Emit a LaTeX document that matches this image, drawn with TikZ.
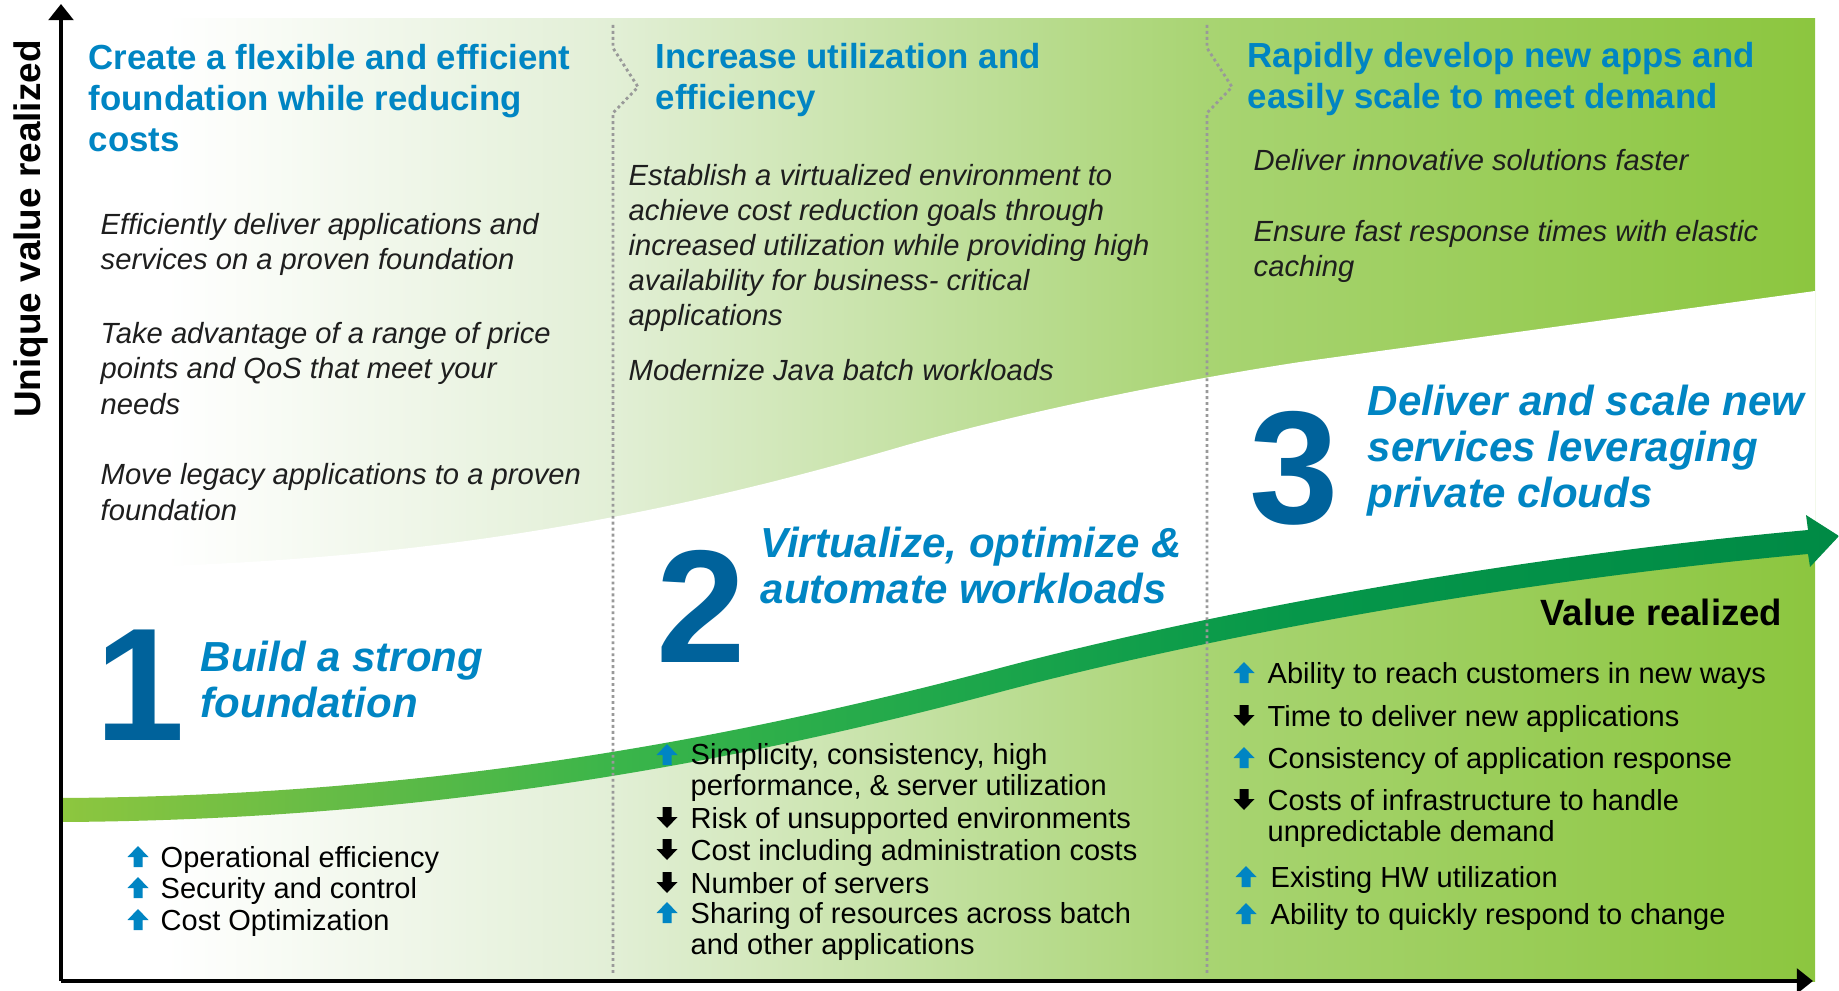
\documentclass[tikz,border=0pt]{standalone}
\usepackage{fontspec}
\setmainfont{Liberation Sans}
\usetikzlibrary{arrows.meta,positioning}

\definecolor{titleblue}{RGB}{0,133,195}
\definecolor{numblue}{RGB}{0,98,155}
\definecolor{notegray}{RGB}{30,30,30}
\definecolor{fieldA}{RGB}{226,239,214}
\definecolor{fieldB}{RGB}{168,212,114}
\definecolor{fieldC}{RGB}{140,198,63}
\definecolor{trendA}{RGB}{141,198,63}
\definecolor{trendB}{RGB}{99,187,70}
\definecolor{trendC}{RGB}{58,181,74}
\definecolor{trendD}{RGB}{27,165,75}
\definecolor{trendE}{RGB}{6,151,74}
\definecolor{trendF}{RGB}{0,138,69}

\pgfdeclarehorizontalshading{fieldshade}{100bp}{color(0bp)=(white); color(28bp)=(white); color(40.7bp)=(fieldA); color(57.7bp)=(fieldB); color(75bp)=(fieldC); color(100bp)=(fieldC)}
\pgfdeclarehorizontalshading{trendshade}{100bp}{color(0bp)=(trendA); color(25bp)=(trendA); color(33.1bp)=(trendB); color(40.7bp)=(trendC); color(51.4bp)=(trendD); color(59.8bp)=(trendE); color(75bp)=(trendF); color(100bp)=(trendF)}

\begin{document}
\begin{tikzpicture}[x=0.01cm, y=-0.01cm,
    stagetitle/.style={anchor=base west, align=left, inner sep=0pt, text=titleblue, font=\bfseries\fontsize{9.9}{11.8}\selectfont},
    stagenote/.style={anchor=base west, align=left, inner sep=0pt, text=notegray, font=\itshape\fontsize{8.3}{10}\selectfont},
    stagenum/.style={anchor=base west, inner sep=0pt, text=numblue, font=\bfseries\fontsize{45.7}{46}\selectfont},
    stagehead/.style={anchor=base west, align=left, inner sep=0pt, text=titleblue, font=\bfseries\itshape\fontsize{11.95}{13}\selectfont},
    benefit/.style={anchor=base west, align=left, inner sep=0pt, font=\fontsize{8.25}{8.8}\selectfont},
    divider/.style={draw=black!40, line width=0.8pt, dash pattern=on 0.8pt off 0.9pt},
    axis/.style={draw=black, line width=1.1pt, -{Triangle[width=7pt,length=4.6pt]}},
    uparr/.pic={\fill[titleblue] (-10.5,-10) -- (0,-21) -- (10.5,-10) -- (4.5,-10) -- (4.5,0) -- (-4.5,0) -- (-4.5,-10) -- cycle;},
    dnarr/.pic={\fill[black] (-4.5,-21) -- (4.5,-21) -- (4.5,-11) -- (10.5,-11) -- (0,0) -- (-10.5,-11) -- (-4.5,-11) -- cycle;}]
    \useasboundingbox (0,0) rectangle (1839,991);

    % Background bands
    \shade[shading=fieldshade] (61,19) rectangle (1815,981);
    \fill[white] (61,568) .. controls (400,566) and (650,520) .. (900,447)
        .. controls (1000,418) and (1150,385) .. (1300,362) -- (1815,291) -- (1815,541) -- (1808,542)
        .. controls (1450,575) and (1150,640) .. (1000,680)
        .. controls (700,760) and (400,808) .. (62,810) -- cycle;

    % Value arrow
    \shade[shading=trendshade]
        (62,798) .. controls (400,796) and (700,748) .. (1000,668)
        .. controls (1150,628) and (1450,563) .. (1808,530)
        -- (1806,515) -- (1839,536) -- (1810,567) -- (1808,554)
        .. controls (1450,587) and (1150,652) .. (1000,692)
        .. controls (700,772) and (400,820) .. (62,822) -- cycle;

    % Stage dividers
    \foreach \dx in {613,1207}
        \draw[divider] (\dx,25) -- ++(0,23) -- ++(25,39) -- ++(-25,26) -- (\dx,975);

    % Axes
    \coordinate (origin) at (61,981);
    \coordinate (ytop) at (61,4);
    \coordinate (xend) at (1813,981);
    \draw[axis] (origin) -- (ytop);
    \draw[axis] (origin) -- (xend);
    \node[rotate=90, anchor=base, inner sep=0pt, font=\bfseries\fontsize{10.5}{12}\selectfont] (ylabel) at (41,229) {Unique value realized};

    % Stage goals (anchored at the last line)
    \node[stagetitle] (goal1) at (88,152) {Create a flexible and efficient\\foundation while reducing\\costs};
    \node[stagetitle] (goal2) at (655,110) {Increase utilization and\\efficiency};
    \node[stagetitle] (goal3) at (1247,109) {Rapidly develop new apps and\\easily scale to meet demand};

    \node[stagenote] (note1a) at (100,270) {Efficiently deliver applications and\\services on a proven foundation};
    \node[stagenote] (note1b) at (100,414) {Take advantage of a range of price\\points and QoS that meet your\\needs};
    \node[stagenote] (note1c) at (100,520) {Move legacy applications to a proven\\foundation};
    \node[stagenote] (note2a) at (628,326) {Establish a virtualized environment to\\achieve cost reduction goals through\\increased utilization while providing high\\availability for business- critical\\applications};
    \node[stagenote] (note2b) at (628,380) {Modernize Java batch workloads};
    \node[stagenote] (note3a) at (1253,171) {Deliver innovative solutions faster};
    \node[stagenote] (note3b) at (1253,277) {Ensure fast response times with elastic\\caching};

    % Stage numbers
    \node[stagenum] (num1) at (95,740) {1};
    \node[stagehead] (head1) at (200,717) {Build a strong\\foundation};
    \node[stagenum] (num2) at (656,662) {2};
    \node[stagehead] (head2) at (760,603) {Virtualize, optimize \&\\automate workloads};
    \node[stagenum] (num3) at (1249,523) {3};
    \node[stagehead] (head3) at (1367,507) {Deliver and scale new\\services leveraging\\private clouds};

    \node[anchor=base east, inner sep=0pt, font=\bfseries\fontsize{10.4}{12}\selectfont] (value) at (1783,625) {Value realized};

    % Benefits (multi-line items anchored at the last line)
    \foreach \ix/\iy/\tx/\ty/\kind/\txt [count=\n] in {
        138/867/160/867/uparr/{Operational efficiency},
        138/898/160/898/uparr/{Security and control},
        138/930/160/930/uparr/{Cost Optimization},
        667/765/690/795/uparr/{Simplicity, consistency, high\\performance, \& server utilization},
        667/828/690/828/dnarr/{Risk of unsupported environments},
        667/860/690/860/dnarr/{Cost including administration costs},
        667/893/690/893/dnarr/{Number of servers},
        667/923/690/954/uparr/{Sharing of resources across batch\\and other applications},
        1244/683/1267/683/uparr/{Ability to reach customers in new ways},
        1244/726/1267/726/dnarr/{Time to deliver new applications},
        1244/768/1267/768/uparr/{Consistency of application response},
        1244/810/1267/841/dnarr/{Costs of infrastructure to handle\\unpredictable demand},
        1246/887/1270/887/uparr/{Existing HW utilization},
        1246/924/1270/924/uparr/{Ability to quickly respond to change}}
    {
        \pic (mark\n) at (\ix,\iy) {\kind};
        \node[benefit] (item\n) at (\tx,\ty) {\txt};
    }
\end{tikzpicture}
\end{document}
